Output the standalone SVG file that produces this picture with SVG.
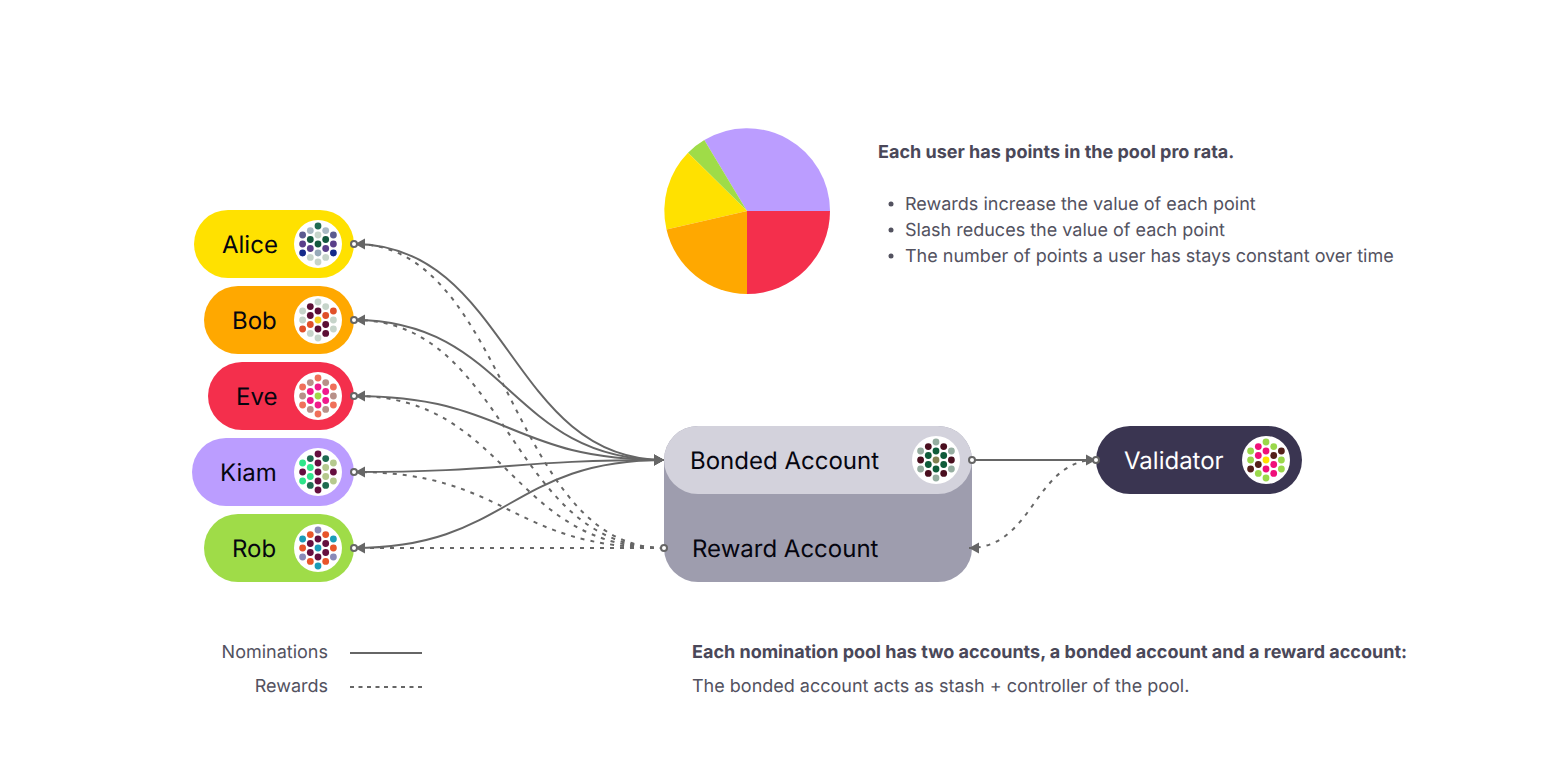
<svg xmlns="http://www.w3.org/2000/svg" width="1560" height="780" viewBox="0 0 1560 780">
<style>
text{font-family:Inter,"Noto Sans","Liberation Sans",sans-serif;text-rendering:geometricPrecision}
.name{font-size:24px;fill:#05050f}
.body{font-size:18px;fill:#53525f}
.bold{font-size:18px;font-weight:700;fill:#4a4859}
.dots circle{r:3.4px}
.dots circle:first-child{r:24px;fill:#fff}
.sol{fill:none;stroke:#666;stroke-width:2}
.dash{fill:none;stroke:#666;stroke-width:2;stroke-dasharray:4 6}
.port{fill:#fff;stroke:#666;stroke-width:2}
</style>
<defs>
<marker id="arrow" markerUnits="userSpaceOnUse" markerWidth="12" markerHeight="12" refX="10" refY="6" orient="auto-start-reverse" viewBox="0 0 12 12"><path d="M0,0.5 L10,6 L0,11.5 Z" fill="#666"/></marker>
</defs>
<rect width="1560" height="780" fill="#fff"/>
<g id="pie">
<path d="M747,211 L830,211 A83,83 0 0 0 704.3,140 Z" fill="#bb9dff"/>
<path d="M747,211 L704.3,140 A83,83 0 0 0 688,152.7 Z" fill="#9fdc48"/>
<path d="M747,211 L688,152.7 A83,83 0 0 0 666.5,229.5 Z" fill="#ffe100"/>
<path d="M747,211 L666.5,229.5 A83,83 0 0 0 747,294 Z" fill="#ffa800"/>
<path d="M747,211 L747,294 A83,83 0 0 0 830,211 Z" fill="#f42f4c"/>
</g>
<g id="pool-notes">
<text class="bold" x="878" y="158">Each user has points in the pool pro rata.</text>
<circle cx="891" cy="204" r="2.5" fill="#53525f"/><text class="body" x="905" y="210">Rewards increase the value of each point</text>
<circle cx="891" cy="230" r="2.5" fill="#53525f"/><text class="body" x="905" y="236">Slash reduces the value of each point</text>
<circle cx="891" cy="256" r="2.5" fill="#53525f"/><text class="body" x="905" y="262">The number of points a user has stays constant over time</text>
</g>
<g id="node-alice">
<rect x="194" y="210" width="160" height="68" rx="34" fill="#ffe100"/>
<text class="name" x="222" y="253">Alice</text>
<g class="dots" transform="translate(318,244)"><circle/>
<circle cy="-18" fill="#1f6b52"/><circle cy="-9" fill="#c6d4ca"/><circle fill="#14593f"/><circle cy="9" fill="#96a9b8"/><circle cy="18" fill="#c6d4ca"/>
<circle cx="-7.7" cy="-13.4" fill="#a9b9c4"/><circle cx="-7.7" cy="-4.5" fill="#14593f"/><circle cx="-7.7" cy="4.5" fill="#5a3f8a"/><circle cx="-7.7" cy="13.4" fill="#c6d4ca"/>
<circle cx="7.7" cy="-13.4" fill="#a9b9c4"/><circle cx="7.7" cy="-4.5" fill="#14593f"/><circle cx="7.7" cy="4.5" fill="#5a3f8a"/><circle cx="7.7" cy="13.4" fill="#c6d4ca"/>
<circle cx="-15.4" cy="-9" fill="#5b5b90"/><circle cx="-15.4" fill="#5a3f8a"/><circle cx="-15.4" cy="9" fill="#152a8a"/>
<circle cx="15.4" cy="-9" fill="#5b5b90"/><circle cx="15.4" fill="#5a3f8a"/><circle cx="15.4" cy="9" fill="#152a8a"/>
</g></g>
<g id="node-bob">
<rect x="204" y="286" width="150" height="68" rx="34" fill="#ffa800"/>
<text class="name" x="232" y="329">Bob</text>
<g class="dots" transform="translate(318,320)"><circle/>
<circle cy="-18" fill="#c6d4ca"/><circle cy="-9" fill="#5c0f35"/><circle fill="#f5d020"/><circle cy="9" fill="#5c0f35"/><circle cy="18" fill="#c6d4ca"/>
<circle cx="-7.7" cy="-13.4" fill="#5c0f35"/><circle cx="-7.7" cy="-4.5" fill="#5c0f35"/><circle cx="-7.7" cy="4.5" fill="#e0502a"/><circle cx="-7.7" cy="13.4" fill="#c6d4ca"/>
<circle cx="7.7" cy="-13.4" fill="#c6d4ca"/><circle cx="7.7" cy="-4.5" fill="#e0502a"/><circle cx="7.7" cy="4.5" fill="#5c0f35"/><circle cx="7.7" cy="13.4" fill="#5c0f35"/>
<circle cx="-15.4" cy="-9" fill="#c6d4ca"/><circle cx="-15.4" fill="#c6d4ca"/><circle cx="-15.4" cy="9" fill="#e0502a"/>
<circle cx="15.4" cy="-9" fill="#e0502a"/><circle cx="15.4" fill="#c6d4ca"/><circle cx="15.4" cy="9" fill="#c6d4ca"/>
</g></g>
<g id="node-eve">
<rect x="208" y="362" width="146" height="68" rx="34" fill="#f42f4c"/>
<text class="name" x="236" y="405">Eve</text>
<g class="dots" transform="translate(318,396)"><circle/>
<circle cy="-18" fill="#f0705a"/><circle cy="-9" fill="#f01a8c"/><circle fill="#a0d848"/><circle cy="9" fill="#f01a8c"/><circle cy="18" fill="#f0705a"/>
<circle cx="-7.7" cy="-13.4" fill="#b89088"/><circle cx="-7.7" cy="-4.5" fill="#f01a8c"/><circle cx="-7.7" cy="4.5" fill="#f01a8c"/><circle cx="-7.7" cy="13.4" fill="#b89088"/>
<circle cx="7.7" cy="-13.4" fill="#b89088"/><circle cx="7.7" cy="-4.5" fill="#f01a8c"/><circle cx="7.7" cy="4.5" fill="#f01a8c"/><circle cx="7.7" cy="13.4" fill="#b89088"/>
<circle cx="-15.4" cy="-9" fill="#f0705a"/><circle cx="-15.4" fill="#b89088"/><circle cx="-15.4" cy="9" fill="#f0705a"/>
<circle cx="15.4" cy="-9" fill="#f0705a"/><circle cx="15.4" fill="#b89088"/><circle cx="15.4" cy="9" fill="#f0705a"/>
</g></g>
<g id="node-kiam">
<rect x="192" y="438" width="162" height="68" rx="34" fill="#bb9dff"/>
<text class="name" x="220" y="481">Kiam</text>
<g class="dots" transform="translate(318,472)"><circle/>
<circle cy="-18" fill="#650f3f"/><circle cy="-9" fill="#650f3f"/><circle fill="#650f3f"/><circle cy="9" fill="#650f3f"/><circle cy="18" fill="#650f3f"/>
<circle cx="-7.7" cy="-13.4" fill="#1e6b50"/><circle cx="-7.7" cy="-4.5" fill="#2ee58a"/><circle cx="-7.7" cy="4.5" fill="#2ee58a"/><circle cx="-7.7" cy="13.4" fill="#1e6b50"/>
<circle cx="7.7" cy="-13.4" fill="#1e6b50"/><circle cx="7.7" cy="-4.5" fill="#b5c98e"/><circle cx="7.7" cy="4.5" fill="#b5c98e"/><circle cx="7.7" cy="13.4" fill="#1e6b50"/>
<circle cx="-15.4" cy="-9" fill="#2ee58a"/><circle cx="-15.4" fill="#650f3f"/><circle cx="-15.4" cy="9" fill="#2ee58a"/>
<circle cx="15.4" cy="-9" fill="#b5c98e"/><circle cx="15.4" fill="#650f3f"/><circle cx="15.4" cy="9" fill="#b5c98e"/>
</g></g>
<g id="node-rob">
<rect x="204" y="514" width="150" height="68" rx="34" fill="#9fdc48"/>
<text class="name" x="232" y="557">Rob</text>
<g class="dots" transform="translate(318,548)"><circle/>
<circle cy="-18" fill="#8a8ab8"/><circle cy="-9" fill="#650f3f"/><circle fill="#1a9cb8"/><circle cy="9" fill="#650f3f"/><circle cy="18" fill="#1a9cb8"/>
<circle cx="-7.7" cy="-13.4" fill="#e8552a"/><circle cx="-7.7" cy="-4.5" fill="#650f3f"/><circle cx="-7.7" cy="4.5" fill="#650f3f"/><circle cx="-7.7" cy="13.4" fill="#e8552a"/>
<circle cx="7.7" cy="-13.4" fill="#e8552a"/><circle cx="7.7" cy="-4.5" fill="#650f3f"/><circle cx="7.7" cy="4.5" fill="#650f3f"/><circle cx="7.7" cy="13.4" fill="#e8552a"/>
<circle cx="-15.4" cy="-9" fill="#1a9cb8"/><circle cx="-15.4" fill="#e8552a"/><circle cx="-15.4" cy="9" fill="#8a8ab8"/>
<circle cx="15.4" cy="-9" fill="#1a9cb8"/><circle cx="15.4" fill="#e8552a"/><circle cx="15.4" cy="9" fill="#8a8ab8"/>
</g></g>
<g id="node-reward-account">
<rect x="664" y="426" width="308" height="156" rx="34" fill="#9e9dae"/>
<text class="name" x="692" y="557">Reward Account</text>
</g>
<g id="node-bonded-account">
<rect x="664" y="426" width="308" height="68" rx="34" fill="#d3d2dc"/>
<text class="name" x="690" y="469">Bonded Account</text>
<g class="dots" transform="translate(936,460)"><circle/>
<circle cy="-18" fill="#95ada0"/><circle cy="-9" fill="#0f5c3a"/><circle fill="#808050"/><circle cy="9" fill="#0f5c3a"/><circle cy="18" fill="#95ada0"/>
<circle cx="-7.7" cy="-13.4" fill="#4a0f1f"/><circle cx="-7.7" cy="-4.5" fill="#0f5c3a"/><circle cx="-7.7" cy="4.5" fill="#0f5c3a"/><circle cx="-7.7" cy="13.4" fill="#4a0f1f"/>
<circle cx="7.7" cy="-13.4" fill="#4a0f1f"/><circle cx="7.7" cy="-4.5" fill="#0f5c3a"/><circle cx="7.7" cy="4.5" fill="#0f5c3a"/><circle cx="7.7" cy="13.4" fill="#4a0f1f"/>
<circle cx="-15.4" cy="-9" fill="#95ada0"/><circle cx="-15.4" fill="#4a0f1f"/><circle cx="-15.4" cy="9" fill="#95ada0"/>
<circle cx="15.4" cy="-9" fill="#95ada0"/><circle cx="15.4" fill="#4a0f1f"/><circle cx="15.4" cy="9" fill="#95ada0"/>
</g></g>
<g id="node-validator">
<rect x="1096" y="426" width="206" height="68" rx="34" fill="#3a3551"/>
<text class="name" x="1124" y="469" style="fill:#fff">Validator</text>
<g class="dots" transform="translate(1266,460)"><circle/>
<circle cy="-18" fill="#9ad84a"/><circle cy="-9" fill="#f0107a"/><circle fill="#ffe000"/><circle cy="9" fill="#f0107a"/><circle cy="18" fill="#9ad84a"/>
<circle cx="-7.7" cy="-13.4" fill="#f0107a"/><circle cx="-7.7" cy="-4.5" fill="#f0107a"/><circle cx="-7.7" cy="4.5" fill="#55201a"/><circle cx="-7.7" cy="13.4" fill="#9ad84a"/>
<circle cx="7.7" cy="-13.4" fill="#9ad84a"/><circle cx="7.7" cy="-4.5" fill="#55201a"/><circle cx="7.7" cy="4.5" fill="#f0107a"/><circle cx="7.7" cy="13.4" fill="#f0107a"/>
<circle cx="-15.4" cy="-9" fill="#9ad84a"/><circle cx="-15.4" fill="#9ad84a"/><circle cx="-15.4" cy="9" fill="#55201a"/>
<circle cx="15.4" cy="-9" fill="#55201a"/><circle cx="15.4" fill="#9ad84a"/><circle cx="15.4" cy="9" fill="#9ad84a"/>
</g></g>
<g id="connectors">
<path class="sol" marker-end="url(#arrow)" d="M354,244 C509,244 509,460 664,460"/>
<path class="sol" marker-end="url(#arrow)" d="M354,320 C509,320 509,460 664,460"/>
<path class="sol" marker-end="url(#arrow)" d="M354,396 C509,396 509,460 664,460"/>
<path class="sol" marker-end="url(#arrow)" d="M354,472 C509,472 509,460 664,460"/>
<path class="sol" marker-end="url(#arrow)" d="M354,548 C509,548 509,460 664,460"/>
<path class="dash" marker-end="url(#arrow)" d="M664,548 C509,548 509,244 355,244"/>
<path class="dash" marker-end="url(#arrow)" d="M664,548 C509,548 509,320 355,320"/>
<path class="dash" marker-end="url(#arrow)" d="M664,548 C509,548 509,396 355,396"/>
<path class="dash" marker-end="url(#arrow)" d="M664,548 C509,548 509,472 355,472"/>
<path class="dash" marker-end="url(#arrow)" d="M664,548 L355,548"/>
<path class="sol" marker-end="url(#arrow)" d="M972,460 L1096,460"/>
<path class="dash" marker-end="url(#arrow)" d="M1096,460 C1034,460 1034,548 969,548"/>
<circle class="port" cx="354" cy="244" r="3"/>
<circle class="port" cx="354" cy="320" r="3"/>
<circle class="port" cx="354" cy="396" r="3"/>
<circle class="port" cx="354" cy="472" r="3"/>
<circle class="port" cx="354" cy="548" r="3"/>
<circle class="port" cx="664" cy="548" r="3"/>
<circle class="port" cx="972" cy="460" r="3"/>
<circle class="port" cx="1096" cy="460" r="3"/>
</g>
<g id="legend">
<text class="body" x="328" y="658" text-anchor="end">Nominations</text>
<text class="body" x="328" y="692" text-anchor="end">Rewards</text>
<path class="sol" d="M350,653 H422"/>
<path class="dash" style="stroke-dasharray:4 4.5" d="M350,687 H422"/>
</g>
<g id="accounts-note">
<text class="bold" x="692" y="658">Each nomination pool has two accounts, a bonded account and a reward account:</text>
<text class="body" x="692" y="692">The bonded account acts as stash + controller of the pool.</text>
</g>
</svg>
